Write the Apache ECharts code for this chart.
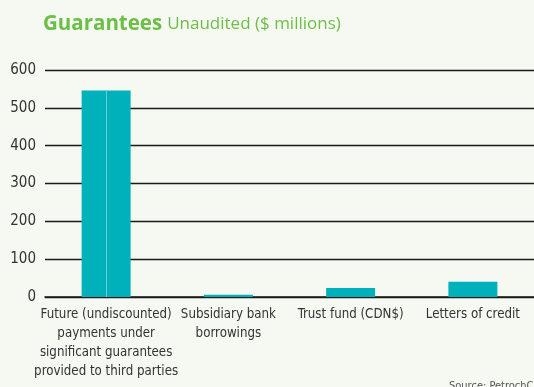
<!DOCTYPE html>
<html>
<head>
<meta charset="utf-8">
<script src="https://cdn.jsdelivr.net/npm/echarts@6/dist/echarts.min.js"></script>
<style>
html,body{margin:0;padding:0;background:#f6f8f2;}
#c{width:534px;height:387px;}
</style>
</head>
<body>
<div id="c"></div>
<script>
var categories = [
  "Future (undiscounted)\npayments under\nsignificant guarantees\nprovided to third parties",
  "Subsidiary bank\nborrowings",
  "Trust fund (CDN$)",
  "Letters of credit"
];
var values = [546, 6, 24, 40];
var yTicks = [0, 100, 200, 300, 400, 500, 600];
var titleMain = "Guarantees";
var titleSub = "Unaudited ($ millions)";
var sourceText = "Source: PetrochCo";

var labelFont = "'Liberation Sans Narrow','DejaVu Sans Condensed','Open Sans',sans-serif";
var chart = echarts.init(document.getElementById('c'), null, {renderer: 'canvas'});
chart.setOption({
  backgroundColor: '#f6f8f2',
  animation: false,
  title: {
    left: 38, top: 9,
    text: '{a|' + titleMain + '} {b|' + titleSub + '}',
    textStyle: {
      rich: {
        a: {fontFamily: "'Open Sans',sans-serif", fontWeight: 'bold', fontSize: 20.5, color: '#6cbf45'},
        b: {fontFamily: "'Open Sans',sans-serif", fontWeight: 'normal', fontSize: 17, color: '#6cbf45'}
      }
    }
  },
  grid: {left: 45, right: -6, top: 70, bottom: 90, containLabel: false},
  xAxis: {
    type: 'category',
    data: categories,
    axisLine: {show: true, lineStyle: {color: '#1a1a1a', width: 1.5}},
    axisTick: {show: false},
    axisLabel: {interval: 0, margin: 8, color: '#333', fontSize: 13.2, lineHeight: 19, fontFamily: labelFont}
  },
  yAxis: {
    type: 'value',
    min: yTicks[0], max: yTicks[yTicks.length - 1], interval: 100,
    axisLine: {show: false},
    axisTick: {show: false},
    splitLine: {lineStyle: {color: '#1a1a1a', width: 1.3}},
    axisLabel: {margin: 9, color: '#333', fontSize: 15, fontFamily: labelFont}
  },
  series: [{
    type: 'bar',
    data: values,
    barWidth: 49,
    itemStyle: {color: '#00b0ba'},
    markLine: {
      silent: true,
      symbol: 'none',
      label: {show: false},
      lineStyle: {color: '#6fccd2', width: 1, type: 'solid'},
      data: [[{coord: [categories[0], 0]}, {coord: [categories[0], values[0]]}]]
    }
  }],
  graphic: [{
    type: 'text',
    left: 449, top: 381,
    style: {text: sourceText, fontSize: 11, fill: '#555', fontFamily: labelFont}
  }]
});
</script>
</body>
</html>
